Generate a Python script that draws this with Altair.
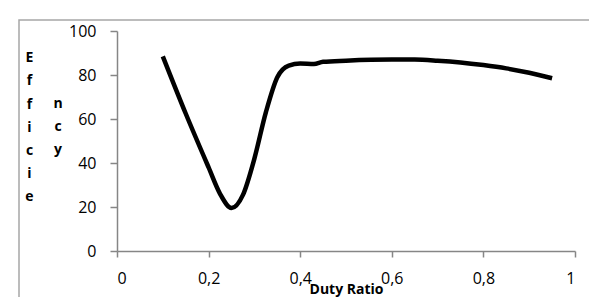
import altair as alt
import pandas as pd

duty = [0.10, 0.15, 0.20, 0.225, 0.25, 0.275, 0.30, 0.325, 0.35, 0.375, 0.40, 0.43, 0.45, 0.50, 0.60, 0.65, 0.70, 0.75, 0.80, 0.85, 0.90, 0.95]
eff = [88.5, 62.5, 38.0, 26.0, 19.5, 25.5, 42.0, 63.0, 79.0, 84.3, 85.2, 85.0, 86.0, 86.5, 87.0, 87.0, 86.5, 85.7, 84.5, 83.0, 81.0, 78.5]

x_ticks = [0, 0.2, 0.4, 0.6, 0.8, 1]
y_ticks = [0, 20, 40, 60, 80, 100]

df = pd.DataFrame({"duty": duty, "eff": eff})

FONT = "Open Sans"
AXIS_COLOR = "#868686"

line = alt.Chart(df).mark_line(color="black", strokeWidth=4.5, interpolate="monotone").encode(
    x=alt.X("duty:Q", scale=alt.Scale(domain=[0, 1], nice=False),
            axis=alt.Axis(values=x_ticks, labelExpr="replace(toString(datum.value), '.', ',')",
                          title="Duty Ratio", titleFont=FONT, titleFontSize=14, titleFontWeight="bold",
                          titleColor="black", titleBaseline="alphabetic", titleY=42,
                          tickSize=6, labelPadding=13, grid=False)),
    y=alt.Y("eff:Q", scale=alt.Scale(domain=[0, 100], nice=False),
            axis=alt.Axis(values=y_ticks, title=["E", "f", "f", "i", "c", "i", "e"],
                          titleAngle=0, titleAlign="center", titleBaseline="alphabetic",
                          titleX=-88, titleY=30.7, titleLineHeight=23.2,
                          titleFont=FONT, titleFontSize=14, titleFontWeight="bold", titleColor="black",
                          tickSize=7, labelPadding=14, grid=False)),
)

second_col = alt.Chart(alt.Data(values=[{"t": "n\nc\ny"}])).mark_text(
    font=FONT, fontSize=14, fontWeight="bold", color="black", align="center",
    baseline="alphabetic", lineBreak="\n", lineHeight=23.2
).encode(text="t:N", x=alt.value(-59), y=alt.value(77.1))

border = alt.Chart(alt.Data(values=[{}])).mark_rect(
    fill="white", fillOpacity=0, stroke="#a6a6a6", strokeWidth=1.5
).encode(x=alt.value(-98), y=alt.value(-11), x2=alt.value(1000), y2=alt.value(1000))

chart = alt.layer(border, line, second_col).properties(
    width=458, height=220,
    autosize=alt.AutoSizeParams(type="none"),
    padding={"left": 109, "top": 23, "right": 14, "bottom": 46},
).configure_view(stroke=None).configure_axis(
    domainColor=AXIS_COLOR, tickColor=AXIS_COLOR, domainWidth=1.5, tickWidth=1.5,
    labelFont=FONT, labelFontSize=16, labelColor="black",
)

chart.save("out.html", embed_options={"renderer": "svg", "actions": False})
